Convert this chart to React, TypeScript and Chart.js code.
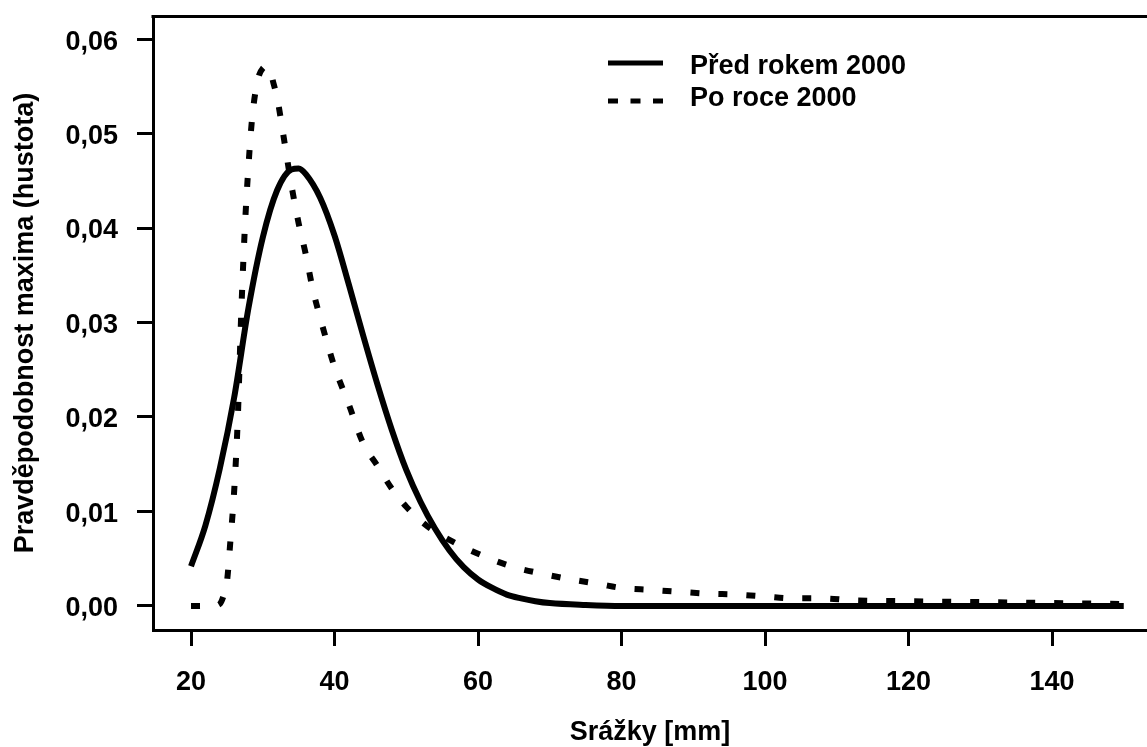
import { useEffect, useRef } from "react";
import { Chart, registerables } from "chart.js";

Chart.register(...registerables);

// ---- data ----
const SERIES_LABELS = ["Před rokem 2000", "Po roce 2000"];
const X_TITLE = "Srážky [mm]";
const Y_TITLE = "Pravděpodobnost maxima (hustota)";

const X_TICKS = [20, 40, 60, 80, 100, 120, 140];
const Y_TICKS = [0, 0.01, 0.02, 0.03, 0.04, 0.05, 0.06];

// "Před rokem 2000" (solid)
const X_BEFORE = [20, 22, 24, 26, 28, 30, 32, 34, 35, 36, 38, 40, 42, 44, 46, 48, 50, 52, 54, 56, 58, 60, 62, 64, 66, 68, 70, 75, 80, 90, 100, 110, 120, 130, 140, 150];
const Y_BEFORE = [0.0042, 0.0085, 0.0145, 0.022, 0.0315, 0.039, 0.044, 0.0462, 0.0463, 0.0457, 0.0432, 0.0392, 0.034, 0.0286, 0.0234, 0.0186, 0.0144, 0.011, 0.0082, 0.0059, 0.0041, 0.0028, 0.0019, 0.0012, 0.0008, 0.0005, 0.0003, 0.0001, 0, 0, 0, 0, 0, 0, 0, 0];

// "Po roce 2000" (dotted)
const X_AFTER = [20, 23, 24, 24.5, 25, 25.5, 26, 26.5, 27, 27.5, 28, 28.5, 29, 29.5, 30, 30.5, 31, 31.5, 32, 33, 34, 35, 36, 37, 38, 39, 40, 42, 44, 46, 48, 50, 53, 57, 61, 65, 69, 73, 77, 80, 84, 88, 92, 96, 100, 104, 108, 112, 120, 130, 140, 150];
const Y_AFTER = [0, 0, 0.0002, 0.001, 0.0025, 0.007, 0.012, 0.0195, 0.031, 0.04, 0.0465, 0.0515, 0.0545, 0.0562, 0.0569, 0.0571, 0.0567, 0.0553, 0.0538, 0.0492, 0.0445, 0.0405, 0.0372, 0.0334, 0.0305, 0.0278, 0.0253, 0.0213, 0.0172, 0.0148, 0.0124, 0.0105, 0.0084, 0.0066, 0.0052, 0.0041, 0.0034, 0.0028, 0.0023, 0.0019, 0.0017, 0.0015, 0.0013, 0.0012, 0.001, 0.0008, 0.0008, 0.0006, 0.0005, 0.0004, 0.0003, 0.0002];

const FONT_FAMILY = "'Liberation Sans', Arial, Helvetica, sans-serif";

const toPoints = (xs: number[], ys: number[]) => xs.map((x, i) => ({ x, y: ys[i] }));

const frameTopPlugin = {
  id: "frameTop",
  afterDraw(chart: any) {
    const { ctx, chartArea } = chart;
    ctx.save();
    ctx.strokeStyle = "#000";
    ctx.lineWidth = 3;
    ctx.beginPath();
    ctx.moveTo(chartArea.left - 1.5, Math.round(chartArea.top) + 0.5);
    ctx.lineTo(chartArea.right + 2, Math.round(chartArea.top) + 0.5);
    ctx.stroke();
    ctx.restore();
  },
};

const legendPlugin = {
  id: "rLegend",
  afterDraw(chart: any) {
    const { ctx } = chart;
    const rows = [
      { ly: 63, ty: 67 },
      { ly: 101, ty: 99 },
    ];
    ctx.save();
    chart.data.datasets.forEach((ds: any, i: number) => {
      const r = rows[i];
      ctx.beginPath();
      ctx.strokeStyle = "#000";
      ctx.lineWidth = 5;
      ctx.lineCap = "butt";
      ctx.setLineDash(i === 0 ? [] : [10, 12.5]);
      ctx.moveTo(608, r.ly);
      ctx.lineTo(663, r.ly);
      ctx.stroke();
      ctx.setLineDash([]);
      ctx.fillStyle = "#000";
      ctx.font = `bold 27px ${FONT_FAMILY}`;
      ctx.textAlign = "left";
      ctx.textBaseline = "middle";
      ctx.fillText(ds.label, 690, r.ty);
    });
    ctx.restore();
  },
};

export default function App() {
  const ref = useRef<HTMLCanvasElement | null>(null);

  useEffect(() => {
    if (!ref.current) return;
    const tickFont = { family: FONT_FAMILY, size: 27, weight: "bold" as const, lineHeight: 1.2 };
    const titleFont = { family: FONT_FAMILY, size: 27, weight: "bold" as const, lineHeight: 1 };
    const chart = new Chart(ref.current, {
      type: "line",
      data: {
        datasets: [
          {
            label: SERIES_LABELS[0],
            data: toPoints(X_BEFORE, Y_BEFORE),
            borderColor: "#000",
            borderWidth: 6,
            pointRadius: 0,
            cubicInterpolationMode: "monotone",
            fill: false,
          },
          {
            label: SERIES_LABELS[1],
            data: toPoints(X_AFTER, Y_AFTER),
            borderColor: "#000",
            borderWidth: 6,
            borderDash: [9, 19],
            borderCapStyle: "butt",
            pointRadius: 0,
            cubicInterpolationMode: "monotone",
            fill: false,
          },
        ],
      },
      options: {
        responsive: false,
        animation: false,
        events: [],
        layout: { padding: { top: 16, left: 0, right: 0, bottom: 0 } },
        plugins: {
          legend: { display: false },
          tooltip: { enabled: false },
          title: { display: false },
        },
        scales: {
          x: {
            type: "linear",
            min: 14.7,
            max: 153.24,
            afterBuildTicks: (scale: any) => {
              scale.ticks = X_TICKS.map((v) => ({ value: v }));
            },
            afterFit: (scale: any) => {
              scale.height = 117;
              scale.paddingLeft = 0;
              scale.paddingRight = 0;
            },
            ticks: {
              color: "#000",
              font: tickFont,
              padding: 20,
              maxRotation: 0,
              autoSkip: false,
              callback: (v: any) => String(v),
            },
            grid: {
              display: true,
              drawOnChartArea: false,
              drawTicks: true,
              tickLength: 16,
              tickWidth: 3,
              tickColor: "#000",
              color: "#000",
              lineWidth: 3,
            },
            border: { display: true, color: "#000", width: 3 },
            title: {
              display: true,
              text: X_TITLE,
              color: "#000",
              font: titleFont,
              padding: { top: 0, bottom: 1 },
            },
          },
          y: {
            type: "linear",
            min: -0.00255,
            max: 0.06244,
            afterBuildTicks: (scale: any) => {
              scale.ticks = Y_TICKS.map((v) => ({ value: v }));
            },
            afterFit: (scale: any) => {
              scale.width = 153;
              scale.paddingTop = 0;
              scale.paddingBottom = 0;
            },
            ticks: {
              color: "#000",
              font: tickFont,
              padding: 19,
              labelOffset: 3,
              autoSkip: false,
              callback: (v: any) => Number(v).toFixed(2).replace(".", ","),
            },
            grid: {
              display: true,
              drawOnChartArea: false,
              drawTicks: true,
              tickLength: 16,
              tickWidth: 3,
              tickColor: "#000",
              color: "#000",
              lineWidth: 3,
            },
            border: { display: true, color: "#000", width: 3 },
            title: {
              display: true,
              text: Y_TITLE,
              color: "#000",
              font: titleFont,
              padding: { top: 12, bottom: 0 },
            },
          },
        },
      },
      plugins: [frameTopPlugin, legendPlugin],
    } as any);
    return () => chart.destroy();
  }, []);

  return (
    <div style={{ position: "absolute", left: 0, top: 0, width: 1147, height: 747, background: "#fff" }}>
      <canvas ref={ref} width={1147} height={747} style={{ display: "block", width: 1147, height: 747 }} />
    </div>
  );
}
